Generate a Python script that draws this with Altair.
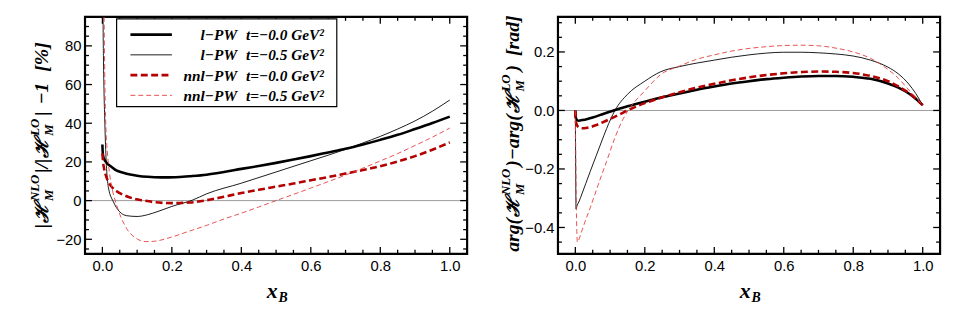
import altair as alt
import pandas as pd

# ---------------- data ----------------
X_TICKS = [0.0, 0.2, 0.4, 0.6, 0.8, 1.0]
X_MINOR = [-0.05, 0.05, 0.1, 0.15, 0.25, 0.3, 0.35, 0.45, 0.5, 0.55, 0.65, 0.7, 0.75,
           0.85, 0.9, 0.95, 1.05]
L_Y_TICKS = [-20, 0, 20, 40, 60, 80]
L_Y_MINOR = [-25, -15, -10, -5, 5, 10, 15, 25, 30, 35, 45, 50, 55, 65, 70, 75, 85, 90, 95]
R_Y_TICKS = [-0.4, -0.2, 0.0, 0.2]
R_Y_MINOR = [-0.45, -0.35, -0.3, -0.25, -0.15, -0.1, -0.05, 0.05, 0.1, 0.15, 0.25, 0.3]

NAMES = ["l\u2212PW", "l\u2212PW", "nnl\u2212PW", "nnl\u2212PW"]
TVALS = ["t=\u22120.0 GeV\u00b2", "t=\u22120.5 GeV\u00b2", "t=\u22120.0 GeV\u00b2", "t=\u22120.5 GeV\u00b2"]

# left panel: |H_NLO|/|H_LO| - 1 [%]
L1_x = [0.0, 0.001, 0.003, 0.006, 0.0085, 0.015, 0.025, 0.04, 0.06, 0.08, 0.1, 0.13, 0.17, 0.21,
        0.25, 0.3, 0.35, 0.4, 0.45, 0.5, 0.55, 0.6, 0.65, 0.7, 0.75, 0.8, 0.85, 0.9, 0.95, 1.0]
L1_y = [29, 25, 22.5, 21.2, 20.4, 19, 17.6, 15.6, 14.4, 13.5, 12.9, 12.3, 12.0, 12.1,
        12.6, 13.4, 14.8, 16.4, 17.9, 19.5, 21.2, 23.0, 24.9, 26.8, 29.0, 31.4, 34.0, 37.0, 40.1, 43.4]
L2_x = [0.0015, 0.002, 0.003, 0.0045, 0.0065, 0.009, 0.011, 0.015, 0.02, 0.025, 0.03, 0.04, 0.05,
        0.07, 0.1, 0.13, 0.16, 0.2, 0.26, 0.3, 0.4, 0.5, 0.6, 0.7, 0.75, 0.8, 0.85, 0.9, 0.95, 1.0]
L2_y = [140, 95, 75, 58, 44, 29, 20, 10, 4.5, 1.8, 0, -3.5, -5.8,
        -7.8, -8.2, -7.3, -5.6, -3, 0.3, 3.5, 9, 14.8, 20.6, 26.5, 29.8, 33.2, 37, 41.2, 46.2, 52]
L3_x = [0.0, 0.002, 0.005, 0.01, 0.015, 0.021, 0.03, 0.04, 0.06, 0.09, 0.12, 0.15, 0.2, 0.25,
        0.3, 0.35, 0.4, 0.45, 0.5, 0.55, 0.6, 0.65, 0.7, 0.75, 0.8, 0.85, 0.9, 0.95, 1.0]
L3_y = [24.5, 20, 16.5, 13, 10.5, 8.5, 6.5, 5, 3, 1, 0, -0.8, -1.3, -1,
        0.2, 2, 3.9, 5.6, 7.2, 8.8, 10.5, 12.2, 14.0, 15.8, 17.8, 20.2, 23.0, 26.3, 30.1]
L4_x = [0.003, 0.005, 0.0065, 0.0085, 0.011, 0.014, 0.018, 0.025, 0.03, 0.037, 0.05, 0.07, 0.1,
        0.125, 0.15, 0.2, 0.25, 0.3, 0.35, 0.4, 0.45, 0.5, 0.55, 0.6, 0.65, 0.7, 0.75, 0.8,
        0.85, 0.9, 0.95, 1.0]
L4_y = [140, 95, 70, 48, 34, 26, 18, 9, 4.5, 0, -7, -14.5, -19.8,
        -21.2, -21.0, -18.8, -15.8, -12.8, -9.5, -6.5, -3.3, 0, 3.2, 6.5, 9.8, 13.2, 16.8, 20.5,
        24.3, 28.5, 32.8, 37.5]

# right panel: arg(H_NLO) - arg(H_LO) [rad]
R1_x = [0.0, 0.001, 0.003, 0.006, 0.01, 0.02, 0.035, 0.05, 0.08, 0.11, 0.15, 0.2, 0.25, 0.3,
        0.35, 0.4, 0.45, 0.5, 0.55, 0.6, 0.65, 0.7, 0.75, 0.8, 0.85, 0.9, 0.93, 0.96, 0.98, 1.0]
R1_y = [0.0, -0.02, -0.03, -0.034, -0.035, -0.033, -0.029, -0.024, -0.012, 0.0, 0.014, 0.03,
        0.045, 0.058, 0.071, 0.082, 0.092, 0.1, 0.107, 0.112, 0.116, 0.118, 0.118, 0.115, 0.108,
        0.092, 0.078, 0.058, 0.04, 0.018]
R2_x = [0.0, 0.001, 0.002, 0.005, 0.01, 0.02, 0.03, 0.043, 0.06, 0.075, 0.09, 0.114, 0.15, 0.2,
        0.245, 0.3, 0.35, 0.4, 0.45, 0.5, 0.55, 0.6, 0.65, 0.7, 0.75, 0.8, 0.85, 0.9, 0.93, 0.96,
        0.98, 1.0]
R2_y = [0.0, -0.2, -0.337, -0.325, -0.313, -0.282, -0.25, -0.208, -0.155, -0.108, -0.062, 0.0,
        0.055, 0.1, 0.132, 0.15, 0.162, 0.172, 0.182, 0.19, 0.196, 0.199, 0.199, 0.197, 0.193,
        0.186, 0.172, 0.148, 0.125, 0.09, 0.058, 0.018]
R3_x = [0.0, 0.001, 0.003, 0.008, 0.015, 0.025, 0.04, 0.06, 0.08, 0.1, 0.125, 0.15, 0.2, 0.25,
        0.3, 0.35, 0.4, 0.45, 0.5, 0.55, 0.6, 0.65, 0.7, 0.75, 0.8, 0.85, 0.9, 0.93, 0.96, 0.98, 1.0]
R3_y = [0.0, -0.03, -0.045, -0.056, -0.06, -0.061, -0.058, -0.05, -0.04, -0.029, -0.015, 0.0,
        0.025, 0.045, 0.062, 0.078, 0.091, 0.103, 0.113, 0.121, 0.127, 0.131, 0.133, 0.132,
        0.128, 0.118, 0.1, 0.082, 0.06, 0.04, 0.018]
R4_x = [0.0, 0.002, 0.004, 0.006, 0.009, 0.015, 0.025, 0.043, 0.07, 0.09, 0.115, 0.138, 0.152,
        0.2, 0.245, 0.3, 0.35, 0.4, 0.45, 0.5, 0.55, 0.6, 0.65, 0.7, 0.75, 0.8, 0.85, 0.9, 0.93,
        0.96, 0.98, 1.0]
R4_y = [0.0, -0.25, -0.4, -0.45, -0.445, -0.425, -0.39, -0.332, -0.24, -0.174, -0.09, -0.028, 0.0,
        0.067, 0.122, 0.152, 0.175, 0.19, 0.203, 0.212, 0.218, 0.222, 0.223, 0.221, 0.213, 0.2,
        0.178, 0.14, 0.11, 0.07, 0.045, 0.018]

# ---------------- styles ----------------
COLORS = ["#000000", "#000000", "#b30000", "#e2403f"]
WIDTHS = [2.6, 0.9, 2.6, 0.9]
DASHES = [None, None, [7, 3.5], [5, 3]]
SERIF = "Liberation Serif"
SANS = "Liberation Sans"
SCRIPT_FONT = "DejaVu Serif"
W, H = 387, 240

EM = {"a": .5, "r": .389, "g": .5, "(": .333, ")": .333, "\u2212": .606, "[": .333, "]": .333,
      "d": .5, " ": .25, "|": .22, "/": .278, "1": .5, "%": .833, "N": .722, "L": .611,
      "O": .722, "M": .889, "\u210b": 1.0}


def tw(s, size):
    return sum(EM.get(c, .55) for c in s) * size


def label(txt, x, y, size, angle=0, align="left", baseline="alphabetic",
          style="italic", weight="bold", font=SERIF):
    return alt.Chart(pd.DataFrame({"t": [txt]})).mark_text(
        align=align, baseline=baseline, angle=angle, font=font, fontSize=size,
        fontStyle=style, fontWeight=weight, color="black"
    ).encode(text="t:N", x=alt.value(x), y=alt.value(y))


def vtitle(runs, xb, y0, main=20, small=13, sup_dx=-9.5, sub_dx=5):
    pos = y0
    out = []
    for r in runs:
        if r[0] == "m":
            out.append(label(r[1], xb, pos, main, angle=270))
            pos -= tw(r[1], main) + r[2]
        elif r[0] == "h":
            out.append(label("\u210b", xb, pos, main - 1, angle=270, font=SCRIPT_FONT))
            pos -= tw("\u210b", main - 1) + r[1]
        else:
            out.append(label(r[1], xb + sup_dx, pos, small, angle=270))
            out.append(label(r[2], xb + sub_dx, pos, small, angle=270))
            pos -= max(tw(r[1], small), tw(r[2], small)) + r[3]
    return out


def panel(series, ydom, ymaj, ymin, yfmt, title_layers, legend=False):
    xsc = alt.Scale(domain=[-0.05, 1.05], nice=False, zero=False)
    ysc = alt.Scale(domain=ydom, nice=False, zero=False)
    xax = alt.Axis(values=X_TICKS, format=".1f", ticks=False, tickSize=0, domain=False,
                   grid=False, labelFont=SANS, labelFontSize=15, labelColor="black",
                   labelPadding=5, title=None, labelFlush=False)
    yax = alt.Axis(values=ymaj, format=yfmt, ticks=False, tickSize=0, domain=False,
                   grid=False, labelFont=SANS, labelFontSize=15, labelColor="black",
                   labelPadding=4, title=None, labelFlush=False)
    X = lambda: alt.X("x:Q", scale=xsc, axis=xax)
    Y = lambda: alt.Y("y:Q", scale=ysc, axis=yax)

    layers = []
    layers.append(alt.Chart(pd.DataFrame({"y": [0]})).mark_rule(
        color="#9a9a9a", strokeWidth=1).encode(y=Y()))
    for i, (xs, ys) in enumerate(series):
        kw = dict(color=COLORS[i], strokeWidth=WIDTHS[i], clip=True, interpolate="monotone")
        if DASHES[i]:
            kw["strokeDash"] = DASHES[i]
        layers.append(alt.Chart(pd.DataFrame({"x": xs, "y": ys})).mark_line(**kw)
                      .encode(x=X(), y=Y()))
    # frame ticks (inward), major and minor, on all four sides
    for vals, ln in ((X_TICKS, 7), (X_MINOR, 4)):
        d = pd.DataFrame({"x": vals})
        for y1, y2 in ((H, H - ln), (0, ln)):
            layers.append(alt.Chart(d).mark_rule(color="black", strokeWidth=1.3)
                          .encode(x=X(), y=alt.value(y1), y2=alt.value(y2)))
    for vals, ln in ((ymaj, 7), (ymin, 4)):
        d = pd.DataFrame({"y": vals})
        for x1, x2 in ((0, ln), (W, W - ln)):
            layers.append(alt.Chart(d).mark_rule(color="black", strokeWidth=1.3)
                          .encode(y=Y(), x=alt.value(x1), x2=alt.value(x2)))
    if legend:
        layers.append(alt.Chart(pd.DataFrame({"a": [0]})).mark_rect(
            fill="white", stroke="black", strokeWidth=1.2).encode(
            x=alt.value(32), x2=alt.value(255), y=alt.value(2), y2=alt.value(91)))
        rows = [18, 38.5, 59, 79.5]
        for i in range(4):
            kw = dict(color=COLORS[i], strokeWidth=WIDTHS[i])
            if DASHES[i]:
                kw["strokeDash"] = DASHES[i]
            layers.append(alt.Chart(pd.DataFrame({"a": [0]})).mark_rule(**kw).encode(
                x=alt.value(46), x2=alt.value(88), y=alt.value(rows[i])))
            layers.append(label(NAMES[i], 154, rows[i] + 5.5, 15.5, align="right"))
            layers.append(label(TVALS[i], 163, rows[i] + 5.5, 15.5))
    # x axis title  x_B
    layers.append(label("x", 184, 285, 22))
    layers.append(label("B", 196, 289, 14))
    layers += title_layers
    return alt.layer(*layers).properties(width=W, height=H)


left_title = vtitle([("m", "|", 1), ("h", 3), ("s", "NLO", "M", 2), ("m", "|/|", 1), ("h", 3),
                     ("s", "LO", "M", 3), ("m", "|", 7), ("m", "\u22121", 11), ("m", "[%]", 0)],
                    xb=-37, y0=214)
right_title = vtitle([("m", "arg(", 1), ("h", 3), ("s", "NLO", "M", 2), ("m", ")\u2212arg(", 1),
                      ("h", 3), ("s", "LO", "M", 3), ("m", ")", 9), ("m", "[rad]", 0)],
                     xb=-39, y0=238)

left = panel([(L1_x, L1_y), (L2_x, L2_y), (L3_x, L3_y), (L4_x, L4_y)], [-27.5, 95],
             L_Y_TICKS, L_Y_MINOR, "d", left_title, legend=True)
right = panel([(R1_x, R1_y), (R2_x, R2_y), (R3_x, R3_y), (R4_x, R4_y)], [-0.49, 0.32],
              R_Y_TICKS, R_Y_MINOR, ".1f", right_title)

chart = alt.hconcat(left, right, spacing=30).configure_view(
    stroke="black", strokeWidth=2.2).properties(
    padding={"left": 20, "top": 4, "right": 4, "bottom": 4})

chart.save("out.html", embed_options={"renderer": "svg", "actions": False})
